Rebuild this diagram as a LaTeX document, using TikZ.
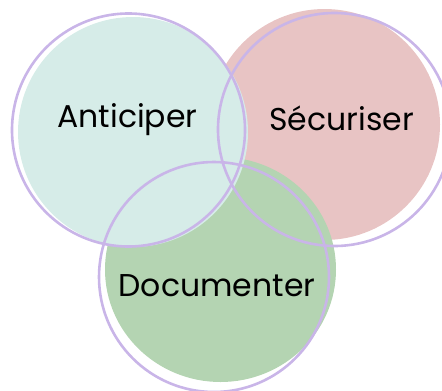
\documentclass[tikz,border=0pt]{standalone}
\usepackage{fontspec}
\setmainfont{Poppins}
\definecolor{tealfill}{HTML}{D6ECE8}
\definecolor{pinkfill}{HTML}{E8C4C4}
\definecolor{greenfill}{HTML}{B4D4B2}
\definecolor{ringcol}{HTML}{C9B5E8}
\begin{document}
\begin{tikzpicture}[x=1pt,y=-1pt,
  ring/.style={draw=ringcol,line width=2.6pt},
  label/.style={anchor=base,inner sep=0pt,font=\fontsize{31.5}{38}\selectfont,text=black}]
\useasboundingbox (0,0) rectangle (442,391);
% fills
\fill[pinkfill] (324.5,124.5) circle (115.5);
\fill[greenfill] (220.5,269.5) ellipse [x radius=115.5, y radius=112.5];
\fill[tealfill] (133,132) circle (115);
% rings
\draw[ring] (128.5,130) circle (116.5);
\draw[ring] (334.5,129.5) circle (116.5);
\draw[ring] (214,277) circle (115);
% labels
\node[label] (a) at (127.5,127) {Anticiper};
\node[label] (s) at (341.5,130) {Sécuriser};
\node[label] (d) at (217,296) {Documenter};
\end{tikzpicture}
\end{document}
